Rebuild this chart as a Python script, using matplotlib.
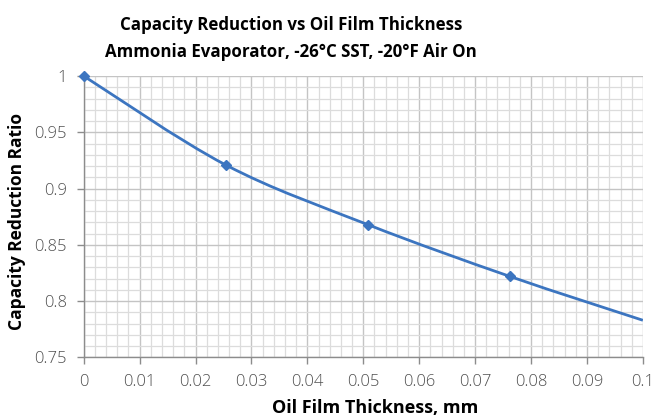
import numpy as np
import matplotlib
matplotlib.use("Agg")
import matplotlib.pyplot as plt
from matplotlib.path import Path
from matplotlib.patches import PathPatch
from matplotlib.ticker import MultipleLocator

# oil film thickness (mm) and capacity ratio
thickness = [0.0, 0.0254, 0.0508, 0.0762, 0.1]
ratio = [1.0, 0.921, 0.868, 0.822, 0.783]
marker_idx = [0, 1, 2, 3]

xticks = [0, 0.01, 0.02, 0.03, 0.04, 0.05, 0.06, 0.07, 0.08, 0.09, 0.1]
xticklabels = ["0", "0.01", "0.02", "0.03", "0.04", "0.05", "0.06", "0.07", "0.08", "0.09", "0.1"]
yticks = [0.75, 0.8, 0.85, 0.9, 0.95, 1.0]
yticklabels = ["0.75", "0.8", "0.85", "0.9", "0.95", "1"]

plt.rcParams['font.family'] = ['Open Sans', 'DejaVu Sans']
blue = '#3c75c0'
tick_col = '#505050'

fig = plt.figure(figsize=(6.54, 4.2), dpi=100)
ax = fig.add_axes([0.128, 0.149, 0.855, 0.670])


def smooth_path(xs, ys):
    # cubic bezier through every point, catmull-rom style tangents
    pts = np.column_stack([xs, ys])
    n = len(pts)
    verts = [pts[0]]
    codes = [Path.MOVETO]
    for i in range(n - 1):
        p0 = pts[i - 1] if i > 0 else pts[i]
        p1 = pts[i]
        p2 = pts[i + 1]
        p3 = pts[i + 2] if i + 2 < n else pts[i + 1]
        c1 = p1 + (p2 - p0) / 6.0
        c2 = p2 - (p3 - p1) / 6.0
        verts += [c1, c2, p2]
        codes += [Path.CURVE4] * 3
    return Path(verts, codes)


ax.add_patch(PathPatch(smooth_path(thickness, ratio), facecolor='none',
                       edgecolor=blue, lw=2.0, zorder=3, clip_on=True))
mx = [thickness[i] for i in marker_idx]
my = [ratio[i] for i in marker_idx]
ax.plot(mx, my, linestyle='none', marker='D', ms=5.5, color=blue,
        zorder=4, clip_on=False)

ax.set_xlim(0, 0.1)
ax.set_ylim(0.75, 1.0)
ax.set_xticks(xticks)
ax.set_xticklabels(xticklabels, fontweight='light')
ax.set_yticks(yticks)
ax.set_yticklabels(yticklabels, fontweight='light')
ax.xaxis.set_minor_locator(MultipleLocator(0.002))
ax.yaxis.set_minor_locator(MultipleLocator(0.01))

ax.grid(which='major', color='#c4c4c4', lw=1.0, zorder=1)
ax.grid(which='minor', color='#dcdcdc', lw=0.9, zorder=0)
ax.set_axisbelow(True)

for side in ['top', 'right']:
    ax.spines[side].set_visible(False)
for side in ['left', 'bottom']:
    ax.spines[side].set_color('#8c8c8c')
    ax.spines[side].set_linewidth(1.0)

ax.tick_params(which='major', direction='out', length=5, width=1,
               color='#8c8c8c', labelsize=12, labelcolor=tick_col, pad=7)
ax.tick_params(which='minor', length=0)

fig.text(375 / 654, 1 - 408 / 420, "Oil Film Thickness, mm", fontsize=13,
         fontweight='bold', ha='center', va='center')
fig.text(17 / 654, 1 - 222 / 420, "Capacity Reduction Ratio", fontsize=12.5,
         fontweight='bold', ha='center', va='center', rotation=90)

fig.text(291 / 654, 1 - 25 / 420, "Capacity Reduction vs Oil Film Thickness",
         ha='center', va='center', fontsize=12.2, fontweight='bold')
fig.text(291 / 654, 1 - 52 / 420, "Ammonia Evaporator, -26°C SST, -20°F Air On",
         ha='center', va='center', fontsize=12.2, fontweight='bold')

fig.savefig("out.png", dpi=100)
